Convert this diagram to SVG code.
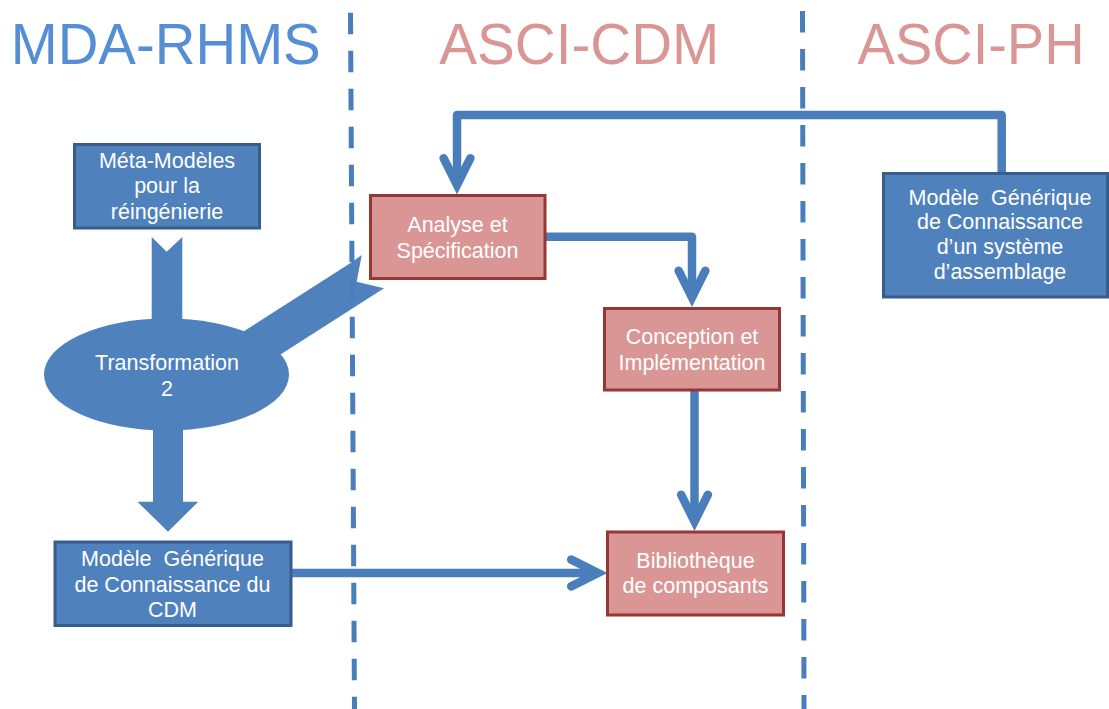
<svg xmlns="http://www.w3.org/2000/svg" width="1109" height="709" viewBox="0 0 1109 709">
<style>
  .title { font-family: "Liberation Sans", Arial, sans-serif; font-size: 58px; }
  .tblue { fill: #558ED5; }
  .tpink { fill: #D99694; }
  .lbl { font-family: "Liberation Sans", Arial, sans-serif; font-size: 21.5px; fill: #FFFFFF; text-anchor: middle; }
  .bbox { fill: #4F81BD; stroke: #385D8A; stroke-width: 3; }
  .pbox { fill: #D99694; stroke: #953735; stroke-width: 3; }
  .blk { fill: #4F81BD; stroke: none; }
  .sep { stroke: #4A7EBB; stroke-width: 5; stroke-dasharray: 21.5 16.5; fill: none; }
  .con { stroke: #4A7EBB; stroke-width: 8.5; fill: none; stroke-linejoin: round; }
  .head { stroke: #4A7EBB; stroke-width: 8.5; fill: none; stroke-linejoin: miter; stroke-miterlimit: 10; stroke-linecap: round; }
</style>

<g id="titles">
  <text class="title tblue" x="10.7" y="64.3" textLength="310" lengthAdjust="spacingAndGlyphs">MDA-RHMS</text>
  <text class="title tpink" x="439.3" y="64.3" textLength="280" lengthAdjust="spacingAndGlyphs">ASCI-CDM</text>
  <text class="title tpink" x="857.6" y="63.5" textLength="227" lengthAdjust="spacingAndGlyphs">ASCI-PH</text>
</g>

<g id="transformation">
  <polygon class="blk" points="151.7,237 166.7,251.7 182.3,237 182.3,330 151.7,330"/>
  <polygon class="blk" points="235,337 351.7,262.3 361.7,255 356.7,281.7 384,288.3 275,358"/>
  <polygon class="blk" points="153,420 183,420 183,501.7 198.3,501.7 168,531.7 137.4,501.7 153,501.7"/>
  <ellipse class="blk" cx="166.5" cy="374.5" rx="122.5" ry="56"/>
  <text class="lbl" x="167" y="370">Transformation</text>
  <text class="lbl" x="167" y="395.7">2</text>
</g>

<g id="separators">
  <line class="sep" x1="350.5" y1="12.7" x2="354.5" y2="709"/>
  <line class="sep" x1="802.5" y1="11" x2="804" y2="709"/>
</g>

<g id="connectors">
  <path class="con" d="M1001.7,173 V115 H457 V185"/>
  <path class="head" d="M443.6,158.2 L457,185 L470.4,158.2"/>
  <path class="con" d="M545,236.7 H692 V297.5"/>
  <path class="head" d="M678.6,270.7 L692,297.5 L705.4,270.7"/>
  <path class="con" d="M694.5,390 V521.5"/>
  <path class="head" d="M681.1,494.7 L694.5,521.5 L707.9,494.7"/>
  <path class="con" d="M291,573 H598"/>
  <path class="head" d="M571.2,559.6 L598,573 L571.2,586.4"/>
</g>

<g id="node-meta">
  <rect class="bbox" x="74.5" y="144.5" width="185" height="83.5"/>
  <text class="lbl" x="167" y="167.7">Méta-Modèles</text>
  <text class="lbl" x="167" y="193.3">pour la</text>
  <text class="lbl" x="167" y="219.3">réingénierie</text>
</g>

<g id="node-cdm">
  <rect class="bbox" x="55" y="542" width="236" height="83.5"/>
  <text class="lbl" x="172.5" y="565.7" xml:space="preserve">Modèle  Générique</text>
  <text class="lbl" x="172.5" y="591.7">de Connaissance du</text>
  <text class="lbl" x="172.5" y="616.7">CDM</text>
</g>

<g id="node-analyse">
  <rect class="pbox" x="370.5" y="195.5" width="174.5" height="83"/>
  <text class="lbl" x="457.5" y="231.7">Analyse et</text>
  <text class="lbl" x="457.5" y="258.3">Spécification</text>
</g>

<g id="node-conception">
  <rect class="pbox" x="604.5" y="308.5" width="175" height="81.5"/>
  <text class="lbl" x="692" y="344.3">Conception et</text>
  <text class="lbl" x="692" y="370">Implémentation</text>
</g>

<g id="node-bibliotheque">
  <rect class="pbox" x="607.5" y="532" width="176" height="83"/>
  <text class="lbl" x="695.5" y="567.7">Bibliothèque</text>
  <text class="lbl" x="695.5" y="593.3">de composants</text>
</g>

<g id="node-assemblage">
  <rect class="bbox" x="883.5" y="173.5" width="224" height="123.5"/>
  <text class="lbl" x="1000" y="205" xml:space="preserve">Modèle  Générique</text>
  <text class="lbl" x="1000" y="229.3">de Connaissance</text>
  <text class="lbl" x="1000" y="254.3">d’un système</text>
  <text class="lbl" x="1000" y="279.3">d’assemblage</text>
</g>
</svg>
